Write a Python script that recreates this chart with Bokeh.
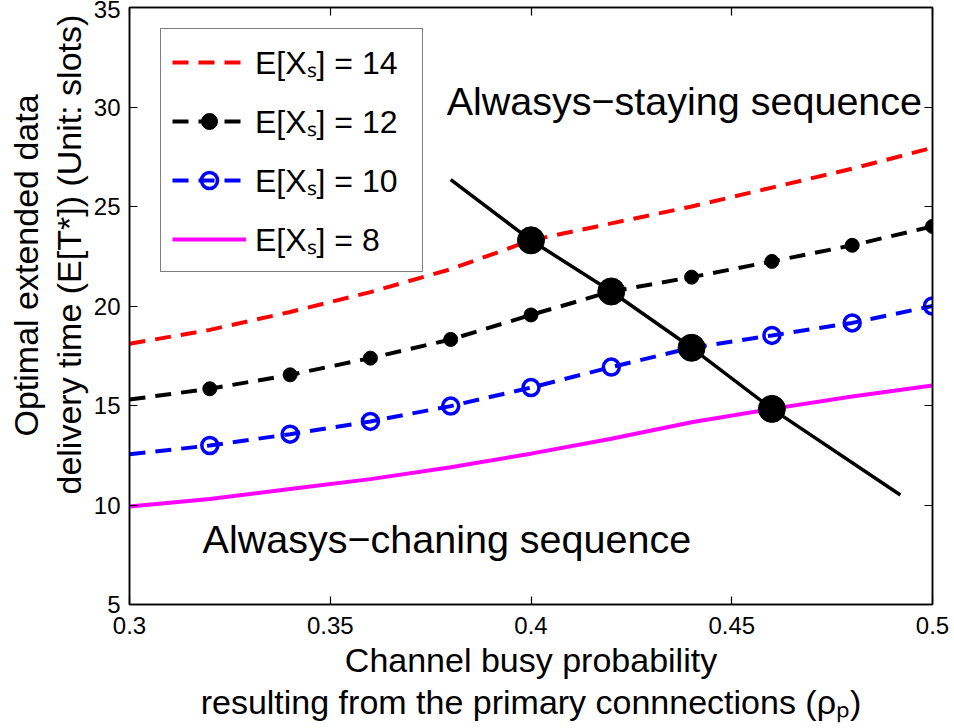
from bokeh.plotting import figure
from bokeh.models import Label, Legend, LegendItem, LinearAxis, Range1d, FixedTicker, Title
from bokeh.embed import file_html
from bokeh.resources import INLINE

# ---- data ----
rho = [0.30, 0.32, 0.34, 0.36, 0.38, 0.40, 0.42, 0.44, 0.46, 0.48, 0.50]
t_14 = [18.1, 18.8, 19.7, 20.7, 21.85, 23.3, 24.15, 25.0, 25.95, 26.9, 27.95]
t_12 = [15.3, 15.84, 16.54, 17.38, 18.32, 19.55, 20.73, 21.45, 22.24, 23.05, 24.0]
t_10 = [12.55, 12.99, 13.56, 14.2, 14.97, 15.9, 16.93, 17.9, 18.52, 19.15, 20.0]
t_8 = [9.92, 10.3, 10.8, 11.3, 11.9, 12.58, 13.33, 14.16, 14.83, 15.45, 16.0]

marker_rho = rho[1:]
marker_12 = t_12[1:]
marker_10 = t_10[1:]

switch_rho = [0.38, 0.40, 0.42, 0.44, 0.46, 0.492]
switch_t = [26.35, 23.3, 20.73, 17.9, 14.83, 10.5]
opt_rho = [0.40, 0.42, 0.44, 0.46]
opt_t = [23.3, 20.73, 17.9, 14.83]

x_ticks = [0.3, 0.35, 0.4, 0.45, 0.5]
x_tick_labels = ["0.3", "0.35", "0.4", "0.45", "0.5"]
y_ticks = [5, 10, 15, 20, 25, 30, 35]

legend_labels = ["E[X\u209b] = 14", "E[X\u209b] = 12", "E[X\u209b] = 10", "E[X\u209b] = 8"]
FONT = "Liberation Sans"

p = figure(frame_width=803, frame_height=597,
           x_range=Range1d(0.3, 0.5), y_range=Range1d(5, 35),
           output_backend="svg", toolbar_location=None,
           min_border_left=129, min_border_right=22,
           min_border_top=7, min_border_bottom=124)
p.background_fill_color = "white"
p.border_fill_color = "white"
p.outline_line_color = "black"
p.outline_line_width = 1.5
p.xgrid.visible = False
p.ygrid.visible = False

def style_axis(ax, ticks, show_labels=True):
    ax.ticker = FixedTicker(ticks=ticks)
    ax.major_tick_in = 8
    ax.major_tick_out = 0
    ax.minor_tick_in = 0
    ax.minor_tick_out = 0
    ax.axis_line_color = "black"
    ax.axis_line_width = 1.5
    ax.major_tick_line_color = "black"
    ax.major_tick_line_width = 1.2
    if show_labels:
        ax.major_label_text_font = FONT
        ax.major_label_text_font_size = "24px"
        ax.major_label_text_color = "black"
    else:
        ax.major_label_text_font_size = "0px"
        ax.major_label_standoff = 0

style_axis(p.xaxis[0], x_ticks)
p.xaxis[0].major_label_overrides = {t: s for t, s in zip(x_ticks, x_tick_labels)}
p.xaxis[0].major_label_standoff = 12
style_axis(p.yaxis[0], y_ticks)
p.yaxis[0].major_label_standoff = 9

top_axis = LinearAxis()
style_axis(top_axis, x_ticks, show_labels=False)
p.add_layout(top_axis, "above")
right_axis = LinearAxis()
style_axis(right_axis, y_ticks, show_labels=False)
p.add_layout(right_axis, "right")

# ---- series ----
r14 = p.line(rho, t_14, line_color="#ff0000", line_width=4, line_dash="16 10")
r12l = p.line(rho, t_12, line_color="black", line_width=4, line_dash="16 10")
r12m = p.scatter(marker_rho, marker_12, size=14, marker="circle",
                 fill_color="black", line_color="black")
r10l = p.line(rho, t_10, line_color="#0000ff", line_width=4, line_dash="16 10")
r10m = p.scatter(marker_rho, marker_10, size=16, marker="circle",
                 fill_color=None, line_color="#0000ff", line_width=3.5)
r8 = p.line(rho, t_8, line_color="#ff00ff", line_width=4)
sw = p.line(switch_rho, switch_t, line_color="black", line_width=3.5)
opt = p.scatter(opt_rho, opt_t, size=27, marker="circle",
                fill_color="black", line_color="black")

legend = Legend(items=[
    LegendItem(label=legend_labels[0], renderers=[r14]),
    LegendItem(label=legend_labels[1], renderers=[r12l, r12m]),
    LegendItem(label=legend_labels[2], renderers=[r10l, r10m]),
    LegendItem(label=legend_labels[3], renderers=[r8]),
], location=(31, 332))
legend.label_text_font = FONT
legend.label_text_font_size = "32px"
legend.label_text_color = "black"
legend.glyph_width = 74
legend.glyph_height = 40
legend.label_height = 40
legend.label_width = 156
legend.spacing = 16
legend.padding = 11
legend.label_standoff = 9
legend.margin = 0
legend.border_line_color = "black"
legend.border_line_width = 1.5
legend.background_fill_color = "white"
legend.background_fill_alpha = 1.0
p.add_layout(legend, "center")

# ---- in-plot annotations ----
p.add_layout(Label(x=0.379, y=30.32, text="Alwasys\u2212staying sequence",
                   text_font=FONT, text_font_size="39.5px", text_color="black",
                   text_align="left", text_baseline="alphabetic"))
p.add_layout(Label(x=0.3182, y=8.31, text="Alwasys\u2212chaning sequence",
                   text_font=FONT, text_font_size="39.5px", text_color="black",
                   text_align="left", text_baseline="alphabetic"))

# ---- axis titles ----
def side_title(text, loc, size, standoff, align="center", offset=0):
    t = Title(text=text, align=align, offset=offset, standoff=standoff,
              text_font=FONT, text_font_size=size, text_font_style="normal",
              text_color="black")
    p.add_layout(t, loc)

side_title("delivery time (E[T*]) (Unit: slots)", "left", "34px", 6, align="left", offset=110)
side_title("Optimal extended data", "left", "34px", 0, align="left", offset=168)
side_title("Channel busy probability", "below", "34px", 4)
side_title("resulting from the primary connnections (\u03c1\u209a)", "below", "34px", 0)

open("out.html", "w").write(file_html(p, INLINE))
